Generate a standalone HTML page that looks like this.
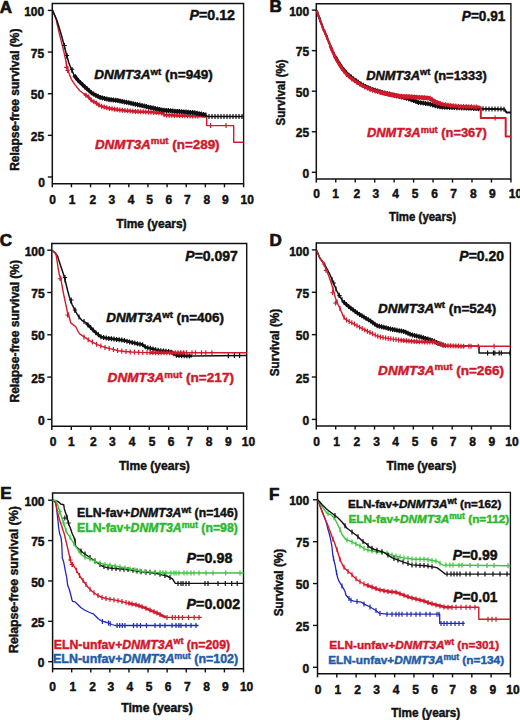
<!DOCTYPE html>
<html><head><meta charset="utf-8"><style>
html,body{margin:0;padding:0;background:#fff;}
svg{display:block;}
text{font-family:"Liberation Sans", sans-serif;font-weight:bold;}
</style></head><body>
<svg width="520" height="720" viewBox="0 0 520 720">
<rect width="520" height="720" fill="#fff"/>
<path d="M52.30,3.50 H243.60 V183.70 H52.30" fill="none" stroke="#111" stroke-width="1.4"/>
<path d="M52.30,2.80 V187.30" fill="none" stroke="#111" stroke-width="1.5"/>
<path d="M47.80,177.00 H52.3" stroke="#111" stroke-width="1.4"/>
<text x="45.00" y="186.60" font-size="12" text-anchor="end" fill="#111" stroke="#111" stroke-width="0.45" >0</text>
<path d="M47.80,135.35 H52.3" stroke="#111" stroke-width="1.4"/>
<text x="44.20" y="140.95" font-size="12" text-anchor="end" fill="#111" stroke="#111" stroke-width="0.45" >25</text>
<path d="M47.80,93.70 H52.3" stroke="#111" stroke-width="1.4"/>
<text x="44.20" y="99.30" font-size="12" text-anchor="end" fill="#111" stroke="#111" stroke-width="0.45" >50</text>
<path d="M47.80,52.05 H52.3" stroke="#111" stroke-width="1.4"/>
<text x="44.20" y="57.65" font-size="12" text-anchor="end" fill="#111" stroke="#111" stroke-width="0.45" >75</text>
<path d="M47.80,10.40 H52.3" stroke="#111" stroke-width="1.4"/>
<text x="44.20" y="16.00" font-size="12" text-anchor="end" fill="#111" stroke="#111" stroke-width="0.45" >100</text>
<text x="52.70" y="203.80" font-size="12" text-anchor="middle" fill="#111" stroke="#111" stroke-width="0.45" >0</text>
<path d="M71.43,183.70 V187.30" stroke="#111" stroke-width="1.4"/>
<text x="72.20" y="203.80" font-size="12" text-anchor="middle" fill="#111" stroke="#111" stroke-width="0.45" >1</text>
<path d="M90.56,183.70 V187.30" stroke="#111" stroke-width="1.4"/>
<text x="92.90" y="203.80" font-size="12" text-anchor="middle" fill="#111" stroke="#111" stroke-width="0.45" >2</text>
<path d="M109.69,183.70 V187.30" stroke="#111" stroke-width="1.4"/>
<text x="111.90" y="203.80" font-size="12" text-anchor="middle" fill="#111" stroke="#111" stroke-width="0.45" >3</text>
<path d="M128.82,183.70 V187.30" stroke="#111" stroke-width="1.4"/>
<text x="131.00" y="203.80" font-size="12" text-anchor="middle" fill="#111" stroke="#111" stroke-width="0.45" >4</text>
<path d="M147.95,183.70 V187.30" stroke="#111" stroke-width="1.4"/>
<text x="149.70" y="203.80" font-size="12" text-anchor="middle" fill="#111" stroke="#111" stroke-width="0.45" >5</text>
<path d="M167.08,183.70 V187.30" stroke="#111" stroke-width="1.4"/>
<text x="168.80" y="203.80" font-size="12" text-anchor="middle" fill="#111" stroke="#111" stroke-width="0.45" >6</text>
<path d="M186.21,183.70 V187.30" stroke="#111" stroke-width="1.4"/>
<text x="187.30" y="203.80" font-size="12" text-anchor="middle" fill="#111" stroke="#111" stroke-width="0.45" >7</text>
<path d="M205.34,183.70 V187.30" stroke="#111" stroke-width="1.4"/>
<text x="206.90" y="203.80" font-size="12" text-anchor="middle" fill="#111" stroke="#111" stroke-width="0.45" >8</text>
<path d="M224.47,183.70 V187.30" stroke="#111" stroke-width="1.4"/>
<text x="225.40" y="203.80" font-size="12" text-anchor="middle" fill="#111" stroke="#111" stroke-width="0.45" >9</text>
<path d="M243.60,183.70 V187.30" stroke="#111" stroke-width="1.4"/>
<text x="247.30" y="203.80" font-size="12" text-anchor="middle" fill="#111" stroke="#111" stroke-width="0.45" >10</text>
<text x="116.30" y="227.50" font-size="12.5" text-anchor="start" fill="#111" stroke="#111" stroke-width="0.45" textLength="70.3" lengthAdjust="spacingAndGlyphs">Time (years)</text>
<text transform="translate(18.70,99.70) rotate(-90)" x="0" y="0" font-size="12.8" text-anchor="middle" textLength="142.2" lengthAdjust="spacingAndGlyphs" fill="#111" stroke="#111" stroke-width="0.45">Relapse-free survival (%)</text>
<text x="-0.20" y="12.80" font-size="17" fill="#111" stroke="#111" stroke-width="0.7">A</text>
<path d="M316.30,3.70 H510.90 V179.00 H316.30" fill="none" stroke="#111" stroke-width="1.4"/>
<path d="M316.30,3.00 V182.60" fill="none" stroke="#111" stroke-width="1.5"/>
<path d="M311.80,172.30 H316.3" stroke="#111" stroke-width="1.4"/>
<text x="309.20" y="177.90" font-size="12" text-anchor="end" fill="#111" stroke="#111" stroke-width="0.45" >0</text>
<path d="M311.80,131.75 H316.3" stroke="#111" stroke-width="1.4"/>
<text x="309.20" y="137.35" font-size="12" text-anchor="end" fill="#111" stroke="#111" stroke-width="0.45" >25</text>
<path d="M311.80,91.20 H316.3" stroke="#111" stroke-width="1.4"/>
<text x="309.20" y="96.80" font-size="12" text-anchor="end" fill="#111" stroke="#111" stroke-width="0.45" >50</text>
<path d="M311.80,50.65 H316.3" stroke="#111" stroke-width="1.4"/>
<text x="309.20" y="56.25" font-size="12" text-anchor="end" fill="#111" stroke="#111" stroke-width="0.45" >75</text>
<path d="M311.80,10.10 H316.3" stroke="#111" stroke-width="1.4"/>
<text x="309.20" y="15.70" font-size="12" text-anchor="end" fill="#111" stroke="#111" stroke-width="0.45" >100</text>
<text x="316.60" y="198.30" font-size="12" text-anchor="middle" fill="#111" stroke="#111" stroke-width="0.45" >0</text>
<path d="M335.76,179.00 V182.60" stroke="#111" stroke-width="1.4"/>
<text x="335.70" y="198.30" font-size="12" text-anchor="middle" fill="#111" stroke="#111" stroke-width="0.45" >1</text>
<path d="M355.22,179.00 V182.60" stroke="#111" stroke-width="1.4"/>
<text x="356.80" y="198.30" font-size="12" text-anchor="middle" fill="#111" stroke="#111" stroke-width="0.45" >2</text>
<path d="M374.68,179.00 V182.60" stroke="#111" stroke-width="1.4"/>
<text x="375.90" y="198.30" font-size="12" text-anchor="middle" fill="#111" stroke="#111" stroke-width="0.45" >3</text>
<path d="M394.14,179.00 V182.60" stroke="#111" stroke-width="1.4"/>
<text x="395.50" y="198.30" font-size="12" text-anchor="middle" fill="#111" stroke="#111" stroke-width="0.45" >4</text>
<path d="M413.60,179.00 V182.60" stroke="#111" stroke-width="1.4"/>
<text x="415.00" y="198.30" font-size="12" text-anchor="middle" fill="#111" stroke="#111" stroke-width="0.45" >5</text>
<path d="M433.06,179.00 V182.60" stroke="#111" stroke-width="1.4"/>
<text x="434.60" y="198.30" font-size="12" text-anchor="middle" fill="#111" stroke="#111" stroke-width="0.45" >6</text>
<path d="M452.52,179.00 V182.60" stroke="#111" stroke-width="1.4"/>
<text x="453.50" y="198.30" font-size="12" text-anchor="middle" fill="#111" stroke="#111" stroke-width="0.45" >7</text>
<path d="M471.98,179.00 V182.60" stroke="#111" stroke-width="1.4"/>
<text x="473.40" y="198.30" font-size="12" text-anchor="middle" fill="#111" stroke="#111" stroke-width="0.45" >8</text>
<path d="M491.44,179.00 V182.60" stroke="#111" stroke-width="1.4"/>
<text x="492.30" y="198.30" font-size="12" text-anchor="middle" fill="#111" stroke="#111" stroke-width="0.45" >9</text>
<path d="M510.90,179.00 V182.60" stroke="#111" stroke-width="1.4"/>
<text x="515.50" y="198.30" font-size="12" text-anchor="middle" fill="#111" stroke="#111" stroke-width="0.45" >10</text>
<text x="388.90" y="221.20" font-size="12.5" text-anchor="start" fill="#111" stroke="#111" stroke-width="0.45" textLength="67.2" lengthAdjust="spacingAndGlyphs">Time (years)</text>
<text transform="translate(285.30,92.40) rotate(-90)" x="0" y="0" font-size="12.8" text-anchor="middle" textLength="66.0" lengthAdjust="spacingAndGlyphs" fill="#111" stroke="#111" stroke-width="0.45">Survival (%)</text>
<text x="269.40" y="12.10" font-size="17" fill="#111" stroke="#111" stroke-width="0.7">B</text>
<path d="M51.80,243.50 H246.70 V426.30 H51.80" fill="none" stroke="#111" stroke-width="1.4"/>
<path d="M51.80,242.80 V429.90" fill="none" stroke="#111" stroke-width="1.5"/>
<path d="M47.30,419.40 H51.8" stroke="#111" stroke-width="1.4"/>
<text x="44.70" y="425.00" font-size="12" text-anchor="end" fill="#111" stroke="#111" stroke-width="0.45" >0</text>
<path d="M47.30,377.10 H51.8" stroke="#111" stroke-width="1.4"/>
<text x="44.70" y="382.70" font-size="12" text-anchor="end" fill="#111" stroke="#111" stroke-width="0.45" >25</text>
<path d="M47.30,334.80 H51.8" stroke="#111" stroke-width="1.4"/>
<text x="44.70" y="340.40" font-size="12" text-anchor="end" fill="#111" stroke="#111" stroke-width="0.45" >50</text>
<path d="M47.30,292.50 H51.8" stroke="#111" stroke-width="1.4"/>
<text x="44.70" y="298.10" font-size="12" text-anchor="end" fill="#111" stroke="#111" stroke-width="0.45" >75</text>
<path d="M47.30,250.20 H51.8" stroke="#111" stroke-width="1.4"/>
<text x="44.70" y="255.80" font-size="12" text-anchor="end" fill="#111" stroke="#111" stroke-width="0.45" >100</text>
<text x="53.10" y="446.10" font-size="12" text-anchor="middle" fill="#111" stroke="#111" stroke-width="0.45" >0</text>
<path d="M71.29,426.30 V429.90" stroke="#111" stroke-width="1.4"/>
<text x="71.30" y="446.10" font-size="12" text-anchor="middle" fill="#111" stroke="#111" stroke-width="0.45" >1</text>
<path d="M90.78,426.30 V429.90" stroke="#111" stroke-width="1.4"/>
<text x="93.30" y="446.10" font-size="12" text-anchor="middle" fill="#111" stroke="#111" stroke-width="0.45" >2</text>
<path d="M110.27,426.30 V429.90" stroke="#111" stroke-width="1.4"/>
<text x="112.30" y="446.10" font-size="12" text-anchor="middle" fill="#111" stroke="#111" stroke-width="0.45" >3</text>
<path d="M129.76,426.30 V429.90" stroke="#111" stroke-width="1.4"/>
<text x="132.00" y="446.10" font-size="12" text-anchor="middle" fill="#111" stroke="#111" stroke-width="0.45" >4</text>
<path d="M149.25,426.30 V429.90" stroke="#111" stroke-width="1.4"/>
<text x="152.00" y="446.10" font-size="12" text-anchor="middle" fill="#111" stroke="#111" stroke-width="0.45" >5</text>
<path d="M168.74,426.30 V429.90" stroke="#111" stroke-width="1.4"/>
<text x="171.20" y="446.10" font-size="12" text-anchor="middle" fill="#111" stroke="#111" stroke-width="0.45" >6</text>
<path d="M188.23,426.30 V429.90" stroke="#111" stroke-width="1.4"/>
<text x="189.60" y="446.10" font-size="12" text-anchor="middle" fill="#111" stroke="#111" stroke-width="0.45" >7</text>
<path d="M207.72,426.30 V429.90" stroke="#111" stroke-width="1.4"/>
<text x="209.20" y="446.10" font-size="12" text-anchor="middle" fill="#111" stroke="#111" stroke-width="0.45" >8</text>
<path d="M227.21,426.30 V429.90" stroke="#111" stroke-width="1.4"/>
<text x="228.40" y="446.10" font-size="12" text-anchor="middle" fill="#111" stroke="#111" stroke-width="0.45" >9</text>
<path d="M246.70,426.30 V429.90" stroke="#111" stroke-width="1.4"/>
<text x="248.50" y="446.10" font-size="12" text-anchor="middle" fill="#111" stroke="#111" stroke-width="0.45" >10</text>
<text x="118.90" y="469.60" font-size="12.5" text-anchor="start" fill="#111" stroke="#111" stroke-width="0.45" textLength="71.0" lengthAdjust="spacingAndGlyphs">Time (years)</text>
<text transform="translate(18.80,331.25) rotate(-90)" x="0" y="0" font-size="12.8" text-anchor="middle" textLength="142.5" lengthAdjust="spacingAndGlyphs" fill="#111" stroke="#111" stroke-width="0.45">Relapse-free survival (%)</text>
<text x="-0.30" y="246.10" font-size="17" fill="#111" stroke="#111" stroke-width="0.7">C</text>
<path d="M316.30,243.00 H510.40 V426.00 H316.30" fill="none" stroke="#111" stroke-width="1.4"/>
<path d="M316.30,242.30 V429.60" fill="none" stroke="#111" stroke-width="1.5"/>
<path d="M311.80,419.40 H316.3" stroke="#111" stroke-width="1.4"/>
<text x="309.20" y="425.00" font-size="12" text-anchor="end" fill="#111" stroke="#111" stroke-width="0.45" >0</text>
<path d="M311.80,377.02 H316.3" stroke="#111" stroke-width="1.4"/>
<text x="309.20" y="382.62" font-size="12" text-anchor="end" fill="#111" stroke="#111" stroke-width="0.45" >25</text>
<path d="M311.80,334.65 H316.3" stroke="#111" stroke-width="1.4"/>
<text x="309.20" y="340.25" font-size="12" text-anchor="end" fill="#111" stroke="#111" stroke-width="0.45" >50</text>
<path d="M311.80,292.27 H316.3" stroke="#111" stroke-width="1.4"/>
<text x="309.20" y="297.88" font-size="12" text-anchor="end" fill="#111" stroke="#111" stroke-width="0.45" >75</text>
<path d="M311.80,249.90 H316.3" stroke="#111" stroke-width="1.4"/>
<text x="309.20" y="255.50" font-size="12" text-anchor="end" fill="#111" stroke="#111" stroke-width="0.45" >100</text>
<text x="316.60" y="446.00" font-size="12" text-anchor="middle" fill="#111" stroke="#111" stroke-width="0.45" >0</text>
<path d="M335.71,426.00 V429.60" stroke="#111" stroke-width="1.4"/>
<text x="336.70" y="446.00" font-size="12" text-anchor="middle" fill="#111" stroke="#111" stroke-width="0.45" >1</text>
<path d="M355.12,426.00 V429.60" stroke="#111" stroke-width="1.4"/>
<text x="356.80" y="446.00" font-size="12" text-anchor="middle" fill="#111" stroke="#111" stroke-width="0.45" >2</text>
<path d="M374.53,426.00 V429.60" stroke="#111" stroke-width="1.4"/>
<text x="376.50" y="446.00" font-size="12" text-anchor="middle" fill="#111" stroke="#111" stroke-width="0.45" >3</text>
<path d="M393.94,426.00 V429.60" stroke="#111" stroke-width="1.4"/>
<text x="395.50" y="446.00" font-size="12" text-anchor="middle" fill="#111" stroke="#111" stroke-width="0.45" >4</text>
<path d="M413.35,426.00 V429.60" stroke="#111" stroke-width="1.4"/>
<text x="415.00" y="446.00" font-size="12" text-anchor="middle" fill="#111" stroke="#111" stroke-width="0.45" >5</text>
<path d="M432.76,426.00 V429.60" stroke="#111" stroke-width="1.4"/>
<text x="434.20" y="446.00" font-size="12" text-anchor="middle" fill="#111" stroke="#111" stroke-width="0.45" >6</text>
<path d="M452.17,426.00 V429.60" stroke="#111" stroke-width="1.4"/>
<text x="453.10" y="446.00" font-size="12" text-anchor="middle" fill="#111" stroke="#111" stroke-width="0.45" >7</text>
<path d="M471.58,426.00 V429.60" stroke="#111" stroke-width="1.4"/>
<text x="472.70" y="446.00" font-size="12" text-anchor="middle" fill="#111" stroke="#111" stroke-width="0.45" >8</text>
<path d="M490.99,426.00 V429.60" stroke="#111" stroke-width="1.4"/>
<text x="491.90" y="446.00" font-size="12" text-anchor="middle" fill="#111" stroke="#111" stroke-width="0.45" >9</text>
<path d="M510.40,426.00 V429.60" stroke="#111" stroke-width="1.4"/>
<text x="511.90" y="446.00" font-size="12" text-anchor="middle" fill="#111" stroke="#111" stroke-width="0.45" >10</text>
<text x="386.60" y="469.60" font-size="12.5" text-anchor="start" fill="#111" stroke="#111" stroke-width="0.45" textLength="69.6" lengthAdjust="spacingAndGlyphs">Time (years)</text>
<text transform="translate(279.40,342.50) rotate(-90)" x="0" y="0" font-size="12.8" text-anchor="middle" textLength="67.5" lengthAdjust="spacingAndGlyphs" fill="#111" stroke="#111" stroke-width="0.45">Survival (%)</text>
<text x="269.40" y="246.20" font-size="17" fill="#111" stroke="#111" stroke-width="0.7">D</text>
<path d="M52.60,493.00 H243.50 V668.80 H52.60" fill="none" stroke="#111" stroke-width="1.4"/>
<path d="M52.60,492.30 V672.40" fill="none" stroke="#111" stroke-width="1.5"/>
<path d="M48.10,661.70 H52.6" stroke="#111" stroke-width="1.4"/>
<text x="44.50" y="667.30" font-size="12" text-anchor="end" fill="#111" stroke="#111" stroke-width="0.45" >0</text>
<path d="M48.10,621.33 H52.6" stroke="#111" stroke-width="1.4"/>
<text x="44.50" y="626.93" font-size="12" text-anchor="end" fill="#111" stroke="#111" stroke-width="0.45" >25</text>
<path d="M48.10,580.95 H52.6" stroke="#111" stroke-width="1.4"/>
<text x="44.50" y="586.55" font-size="12" text-anchor="end" fill="#111" stroke="#111" stroke-width="0.45" >50</text>
<path d="M48.10,540.58 H52.6" stroke="#111" stroke-width="1.4"/>
<text x="44.50" y="546.18" font-size="12" text-anchor="end" fill="#111" stroke="#111" stroke-width="0.45" >75</text>
<path d="M48.10,500.20 H52.6" stroke="#111" stroke-width="1.4"/>
<text x="44.50" y="505.80" font-size="12" text-anchor="end" fill="#111" stroke="#111" stroke-width="0.45" >100</text>
<text x="52.70" y="690.50" font-size="12" text-anchor="middle" fill="#111" stroke="#111" stroke-width="0.45" >0</text>
<path d="M71.69,668.80 V672.40" stroke="#111" stroke-width="1.4"/>
<text x="72.80" y="690.50" font-size="12" text-anchor="middle" fill="#111" stroke="#111" stroke-width="0.45" >1</text>
<path d="M90.78,668.80 V672.40" stroke="#111" stroke-width="1.4"/>
<text x="92.50" y="690.50" font-size="12" text-anchor="middle" fill="#111" stroke="#111" stroke-width="0.45" >2</text>
<path d="M109.87,668.80 V672.40" stroke="#111" stroke-width="1.4"/>
<text x="110.90" y="690.50" font-size="12" text-anchor="middle" fill="#111" stroke="#111" stroke-width="0.45" >3</text>
<path d="M128.96,668.80 V672.40" stroke="#111" stroke-width="1.4"/>
<text x="129.90" y="690.50" font-size="12" text-anchor="middle" fill="#111" stroke="#111" stroke-width="0.45" >4</text>
<path d="M148.05,668.80 V672.40" stroke="#111" stroke-width="1.4"/>
<text x="149.20" y="690.50" font-size="12" text-anchor="middle" fill="#111" stroke="#111" stroke-width="0.45" >5</text>
<path d="M167.14,668.80 V672.40" stroke="#111" stroke-width="1.4"/>
<text x="168.20" y="690.50" font-size="12" text-anchor="middle" fill="#111" stroke="#111" stroke-width="0.45" >6</text>
<path d="M186.23,668.80 V672.40" stroke="#111" stroke-width="1.4"/>
<text x="187.30" y="690.50" font-size="12" text-anchor="middle" fill="#111" stroke="#111" stroke-width="0.45" >7</text>
<path d="M205.32,668.80 V672.40" stroke="#111" stroke-width="1.4"/>
<text x="206.50" y="690.50" font-size="12" text-anchor="middle" fill="#111" stroke="#111" stroke-width="0.45" >8</text>
<path d="M224.41,668.80 V672.40" stroke="#111" stroke-width="1.4"/>
<text x="225.40" y="690.50" font-size="12" text-anchor="middle" fill="#111" stroke="#111" stroke-width="0.45" >9</text>
<path d="M243.50,668.80 V672.40" stroke="#111" stroke-width="1.4"/>
<text x="246.60" y="690.50" font-size="12" text-anchor="middle" fill="#111" stroke="#111" stroke-width="0.45" >10</text>
<text x="121.20" y="711.90" font-size="12.5" text-anchor="start" fill="#111" stroke="#111" stroke-width="0.45" textLength="71.7" lengthAdjust="spacingAndGlyphs">Time (years)</text>
<text transform="translate(17.50,579.62) rotate(-90)" x="0" y="0" font-size="12.8" text-anchor="middle" textLength="146.8" lengthAdjust="spacingAndGlyphs" fill="#111" stroke="#111" stroke-width="0.45">Relapse-free survival (%)</text>
<text x="0.20" y="499.00" font-size="17" fill="#111" stroke="#111" stroke-width="0.7">E</text>
<path d="M317.50,492.40 H510.40 V673.80 H317.50" fill="none" stroke="#111" stroke-width="1.4"/>
<path d="M317.50,491.70 V677.40" fill="none" stroke="#111" stroke-width="1.5"/>
<path d="M313.00,667.30 H317.5" stroke="#111" stroke-width="1.4"/>
<text x="309.20" y="672.90" font-size="12" text-anchor="end" fill="#111" stroke="#111" stroke-width="0.45" >0</text>
<path d="M313.00,625.42 H317.5" stroke="#111" stroke-width="1.4"/>
<text x="309.20" y="631.02" font-size="12" text-anchor="end" fill="#111" stroke="#111" stroke-width="0.45" >25</text>
<path d="M313.00,583.55 H317.5" stroke="#111" stroke-width="1.4"/>
<text x="309.20" y="589.15" font-size="12" text-anchor="end" fill="#111" stroke="#111" stroke-width="0.45" >50</text>
<path d="M313.00,541.67 H317.5" stroke="#111" stroke-width="1.4"/>
<text x="309.20" y="547.27" font-size="12" text-anchor="end" fill="#111" stroke="#111" stroke-width="0.45" >75</text>
<path d="M313.00,499.80 H317.5" stroke="#111" stroke-width="1.4"/>
<text x="309.20" y="505.40" font-size="12" text-anchor="end" fill="#111" stroke="#111" stroke-width="0.45" >100</text>
<text x="318.10" y="693.60" font-size="12" text-anchor="middle" fill="#111" stroke="#111" stroke-width="0.45" >0</text>
<path d="M336.79,673.80 V677.40" stroke="#111" stroke-width="1.4"/>
<text x="337.80" y="693.60" font-size="12" text-anchor="middle" fill="#111" stroke="#111" stroke-width="0.45" >1</text>
<path d="M356.08,673.80 V677.40" stroke="#111" stroke-width="1.4"/>
<text x="357.50" y="693.60" font-size="12" text-anchor="middle" fill="#111" stroke="#111" stroke-width="0.45" >2</text>
<path d="M375.37,673.80 V677.40" stroke="#111" stroke-width="1.4"/>
<text x="376.50" y="693.60" font-size="12" text-anchor="middle" fill="#111" stroke="#111" stroke-width="0.45" >3</text>
<path d="M394.66,673.80 V677.40" stroke="#111" stroke-width="1.4"/>
<text x="396.00" y="693.60" font-size="12" text-anchor="middle" fill="#111" stroke="#111" stroke-width="0.45" >4</text>
<path d="M413.95,673.80 V677.40" stroke="#111" stroke-width="1.4"/>
<text x="415.70" y="693.60" font-size="12" text-anchor="middle" fill="#111" stroke="#111" stroke-width="0.45" >5</text>
<path d="M433.24,673.80 V677.40" stroke="#111" stroke-width="1.4"/>
<text x="434.60" y="693.60" font-size="12" text-anchor="middle" fill="#111" stroke="#111" stroke-width="0.45" >6</text>
<path d="M452.53,673.80 V677.40" stroke="#111" stroke-width="1.4"/>
<text x="452.60" y="693.60" font-size="12" text-anchor="middle" fill="#111" stroke="#111" stroke-width="0.45" >7</text>
<path d="M471.82,673.80 V677.40" stroke="#111" stroke-width="1.4"/>
<text x="473.40" y="693.60" font-size="12" text-anchor="middle" fill="#111" stroke="#111" stroke-width="0.45" >8</text>
<path d="M491.11,673.80 V677.40" stroke="#111" stroke-width="1.4"/>
<text x="492.80" y="693.60" font-size="12" text-anchor="middle" fill="#111" stroke="#111" stroke-width="0.45" >9</text>
<path d="M510.40,673.80 V677.40" stroke="#111" stroke-width="1.4"/>
<text x="513.00" y="693.60" font-size="12" text-anchor="middle" fill="#111" stroke="#111" stroke-width="0.45" >10</text>
<text x="391.20" y="717.30" font-size="12.5" text-anchor="start" fill="#111" stroke="#111" stroke-width="0.45" textLength="69.1" lengthAdjust="spacingAndGlyphs">Time (years)</text>
<text transform="translate(283.30,582.50) rotate(-90)" x="0" y="0" font-size="12.8" text-anchor="middle" textLength="67.5" lengthAdjust="spacingAndGlyphs" fill="#111" stroke="#111" stroke-width="0.45">Survival (%)</text>
<text x="269.10" y="500.00" font-size="17" fill="#111" stroke="#111" stroke-width="0.7">F</text>
<path d="M52.5,10.4 L55.8,18.0 L58.9,31.8 L61.4,41.8 L63.9,51.8 L65.8,60.5 L67.0,66.8 L68.9,73.0 L71.4,79.3 L75.1,84.9 L79.5,90.5 L84.5,94.3 L88.3,96.8 L92.3,101.2 L94.6,101.9 L100.0,105.8 L107.7,108.1 L116.9,109.6 L126.2,110.7 L135.4,111.5 L144.6,111.9 L150.0,112.1 L162.5,113.1 L164.4,115.0 L178.8,115.6 L194.2,116.0 L206.7,116.5 L206.7,125.6 L233.7,125.6 L233.7,142.3 L243.5,142.3" fill="none" stroke="#d21a2c" stroke-width="1.4" stroke-linejoin="round"/>
<path d="M84.0,93.9 L85.0,94.6 L86.0,95.3 L87.0,95.9 L88.0,96.6 L89.0,97.6 L90.0,98.7 L91.0,99.8 L92.0,100.9 L93.0,101.4 L94.0,101.7 L95.0,102.2 L96.0,102.9 L97.0,103.6 L98.0,104.4 L99.0,105.1 L100.0,105.8 L101.0,106.1 L102.0,106.4 L103.0,106.7 L104.0,107.0 L105.0,107.3 L106.0,107.6 L107.0,107.9 L108.0,108.1 L109.0,108.3 L110.0,108.5 L111.0,108.6 L112.0,108.8 L113.0,109.0 L114.0,109.1 L115.0,109.3 L116.0,109.5 L117.0,109.6 L118.0,109.7 L119.0,109.8 L120.0,110.0 L121.0,110.1 L122.0,110.2 L123.0,110.3 L124.0,110.4 L125.0,110.6 L126.0,110.7 L127.0,110.8 L128.0,110.9 L129.0,110.9 L130.0,111.0 L131.0,111.1 L132.0,111.2 L133.0,111.3 L134.0,111.4 L135.0,111.5 L136.0,111.5 L137.0,111.6 L138.0,111.6 L139.0,111.7 L140.0,111.7 L141.0,111.7 L142.0,111.8 L143.0,111.8 L144.0,111.9 L145.0,111.9 L146.0,112.0 L147.0,112.0 L148.0,112.0 L149.0,112.1 L150.0,112.1 L151.0,112.2 L152.0,112.3 L153.0,112.3 L154.0,112.4 L155.0,112.5 L156.0,112.6 L157.0,112.7 L158.0,112.7 L159.0,112.8 L160.0,112.9 L161.0,113.0 L162.0,113.1 L163.0,113.6 L164.0,114.6 L165.0,115.0 L166.0,115.1 L167.0,115.1 L168.0,115.1 L169.0,115.2 L170.0,115.2 L171.0,115.3 L172.0,115.3 L173.0,115.4 L174.0,115.4 L175.0,115.4 L176.0,115.5 L177.0,115.5 L178.0,115.6 L179.0,115.6 L180.0,115.6 L181.0,115.7 L182.0,115.7 L183.0,115.7 L184.0,115.7 L185.0,115.8 L186.0,115.8 L187.0,115.8 L188.0,115.8 L189.0,115.9 L190.0,115.9 L191.0,115.9 L192.0,115.9 L193.0,116.0 L194.0,116.0 L195.0,116.0 L196.0,116.1 L197.0,116.1 L198.0,116.2 L199.0,116.2 L200.0,116.2 L201.0,116.3 L202.0,116.3 L203.0,116.4 L204.0,116.4 L205.0,116.4" fill="none" stroke="#d21a2c" stroke-width="2.6" stroke-linejoin="round"/>
<path d="M66.4,61.2V66.2M67.6,66.3V71.3M86.0,92.8V97.8M88.6,94.6V99.6M91.2,97.5V102.5M93.8,99.2V104.2M96.4,100.7V105.7M99.0,102.6V107.6M101.6,103.8V108.8M104.2,104.6V109.6M106.8,105.3V110.3M109.4,105.9V110.9M112.0,106.3V111.3M114.6,106.7V111.7M117.2,107.1V112.1M119.8,107.4V112.4M122.4,107.8V112.8M125.0,108.1V113.1M127.6,108.3V113.3M130.2,108.5V113.5M132.8,108.8V113.8M135.4,109.0V114.0M138.0,109.1V114.1M140.6,109.2V114.2M143.2,109.3V114.3M145.8,109.4V114.4M148.4,109.5V114.5M151.0,109.7V114.7M153.6,109.9V114.9M156.2,110.1V115.1M158.8,110.3V115.3M161.4,110.5V115.5M164.0,112.1V117.1M166.6,112.6V117.6M169.2,112.7V117.7M171.8,112.8V117.8M174.4,112.9V117.9M177.0,113.0V118.0M179.6,113.1V118.1M182.2,113.2V118.2M184.8,113.3V118.3M187.4,113.3V118.3M190.0,113.4V118.4M192.6,113.5V118.5M195.2,113.5V118.5M197.8,113.6V118.6M210.6,123.1V128.1M226.0,123.1V128.1" fill="none" stroke="#d21a2c" stroke-width="1.2"/>
<path d="M52.5,10.4 L57.0,20.5 L60.8,33.0 L63.9,44.3 L66.4,54.3 L68.9,63.0 L71.4,69.3 L74.5,76.1 L78.3,80.5 L83.3,85.5 L89.5,91.1 L92.3,93.5 L100.0,97.3 L107.7,99.3 L116.9,100.4 L124.6,101.9 L132.3,103.5 L141.5,105.5 L149.2,107.3 L163.5,110.2 L178.8,111.5 L194.2,112.7 L205.8,115.0 L207.7,116.5 L243.5,116.5" fill="none" stroke="#111" stroke-width="1.5" stroke-linejoin="round"/>
<path d="M74.0,75.0 L75.0,76.7 L76.0,77.8 L77.0,79.0 L78.0,80.2 L79.0,81.2 L80.0,82.2 L81.0,83.2 L82.0,84.2 L83.0,85.2 L84.0,86.1 L85.0,87.0 L86.0,87.9 L87.0,88.8 L88.0,89.7 L89.0,90.6 L90.0,91.5 L91.0,92.4 L92.0,93.2 L93.0,93.8 L94.0,94.3 L95.0,94.8 L96.0,95.3 L97.0,95.8 L98.0,96.3 L99.0,96.8 L100.0,97.3 L101.0,97.6 L102.0,97.8 L103.0,98.1 L104.0,98.3 L105.0,98.6 L106.0,98.9 L107.0,99.1 L108.0,99.3 L109.0,99.5 L110.0,99.6 L111.0,99.7 L112.0,99.8 L113.0,99.9 L114.0,100.1 L115.0,100.2 L116.0,100.3 L117.0,100.4 L118.0,100.6 L119.0,100.8 L120.0,101.0 L121.0,101.2 L122.0,101.4 L123.0,101.6 L124.0,101.8 L125.0,102.0 L126.0,102.2 L127.0,102.4 L128.0,102.6 L129.0,102.8 L130.0,103.0 L131.0,103.2 L132.0,103.4 L133.0,103.7 L134.0,103.9 L135.0,104.1 L136.0,104.3 L137.0,104.5 L138.0,104.7 L139.0,105.0 L140.0,105.2 L141.0,105.4 L142.0,105.6 L143.0,105.9 L144.0,106.1 L145.0,106.3 L146.0,106.6 L147.0,106.8 L148.0,107.0 L149.0,107.3 L150.0,107.5 L151.0,107.7 L152.0,107.9 L153.0,108.1 L154.0,108.3 L155.0,108.5 L156.0,108.7 L157.0,108.9 L158.0,109.1 L159.0,109.3 L160.0,109.5 L161.0,109.7 L162.0,109.9 L163.0,110.1 L164.0,110.2 L165.0,110.3 L166.0,110.4 L167.0,110.5 L168.0,110.6 L169.0,110.7 L170.0,110.8 L171.0,110.8 L172.0,110.9 L173.0,111.0 L174.0,111.1 L175.0,111.2 L176.0,111.3 L177.0,111.3 L178.0,111.4 L179.0,111.5 L180.0,111.6 L181.0,111.7 L182.0,111.7 L183.0,111.8 L184.0,111.9 L185.0,112.0 L186.0,112.1 L187.0,112.1 L188.0,112.2 L189.0,112.3 L190.0,112.4 L191.0,112.5 L192.0,112.5 L193.0,112.6 L194.0,112.7 L195.0,112.9 L196.0,113.1 L197.0,113.3 L198.0,113.5 L199.0,113.7 L200.0,113.8 L201.0,114.0 L202.0,114.2 L203.0,114.4 L204.0,114.6 L205.0,114.8 L206.0,115.2" fill="none" stroke="#111" stroke-width="3.6" stroke-linejoin="round"/>
<path d="M64.5,44.2V49.2M67.0,53.9V58.9M72.0,68.1V73.1M76.0,75.3V80.3M78.2,77.9V82.9M80.4,80.1V85.1M82.6,82.3V87.3M84.8,84.4V89.4M87.0,86.3V91.3M89.2,88.3V93.3M91.4,90.2V95.2M93.6,91.6V96.6M95.8,92.7V97.7M98.0,93.8V98.8M100.2,94.9V99.9M102.4,95.4V100.4M104.6,96.0V101.0M106.8,96.6V101.6M109.0,97.0V102.0M111.2,97.2V102.2M113.4,97.5V102.5M115.6,97.7V102.7M117.8,98.1V103.1M120.0,98.5V103.5M122.2,98.9V103.9M124.4,99.4V104.4M126.6,99.8V104.8M128.8,100.3V105.3M131.0,100.7V105.7M133.2,101.2V106.2M135.4,101.7V106.7M137.6,102.2V107.2M139.8,102.6V107.6M142.0,103.1V108.1M144.2,103.6V108.6M146.4,104.1V109.1M148.6,104.7V109.7M150.8,105.1V110.1M153.0,105.6V110.6M155.2,106.0V111.0M157.4,106.5V111.5M159.6,106.9V111.9M161.8,107.4V112.4M164.0,107.7V112.7M166.2,107.9V112.9M168.4,108.1V113.1M170.6,108.3V113.3M172.8,108.5V113.5M175.0,108.7V113.7M177.2,108.9V113.9M179.4,109.0V114.0M181.6,109.2V114.2M183.8,109.4V114.4M186.0,109.6V114.6M188.2,109.7V114.7M190.4,109.9V114.9M192.6,110.1V115.1M194.8,110.3V115.3M197.0,110.8V115.8M199.2,111.2V116.2M201.4,111.6V116.6M203.6,112.1V117.1M205.8,112.5V117.5M209.0,114.0V119.0M212.0,114.0V119.0M215.0,114.0V119.0M218.0,114.0V119.0M221.0,114.0V119.0M224.0,114.0V119.0M227.0,114.0V119.0M230.0,114.0V119.0M233.0,114.0V119.0M236.0,114.0V119.0M239.0,114.0V119.0M242.0,114.0V119.0" fill="none" stroke="#111" stroke-width="1.2"/>
<path d="M316.6,10.3 L319.8,19.3 L323.5,29.3 L327.3,38.0 L331.0,47.5 L334.8,56.0 L338.5,62.5 L342.3,68.3 L347.3,74.0 L353.5,79.0 L359.8,83.3 L366.0,86.8 L371.0,89.0 L381.5,92.2 L392.3,94.8 L400.8,96.8 L410.0,99.2 L418.0,102.3 L429.6,104.0 L435.4,105.8 L441.1,107.0 L457.5,107.7 L470.8,108.3 L480.8,108.8 L504.5,109.2 L506.5,112.5 L510.9,112.5" fill="none" stroke="#111" stroke-width="2.0" stroke-linejoin="round"/>
<path d="M335.0,56.4 L336.0,58.1 L337.0,59.9 L338.0,61.6 L339.0,63.3 L340.0,64.8 L341.0,66.3 L342.0,67.8 L343.0,69.1 L344.0,70.2 L345.0,71.4 L346.0,72.5 L347.0,73.7 L348.0,74.6 L349.0,75.4 L350.0,76.2 L351.0,77.0 L352.0,77.8 L353.0,78.6 L354.0,79.3 L355.0,80.0 L356.0,80.7 L357.0,81.4 L358.0,82.1 L359.0,82.8 L360.0,83.4 L361.0,84.0 L362.0,84.5 L363.0,85.1 L364.0,85.7 L365.0,86.2 L366.0,86.8 L367.0,87.2 L368.0,87.7 L369.0,88.1 L370.0,88.6 L371.0,89.0 L372.0,89.3 L373.0,89.6 L374.0,89.9 L375.0,90.2 L376.0,90.5 L377.0,90.8 L378.0,91.1 L379.0,91.4 L380.0,91.7 L381.0,92.0 L382.0,92.3 L383.0,92.6 L384.0,92.8 L385.0,93.0 L386.0,93.3 L387.0,93.5 L388.0,93.8 L389.0,94.0 L390.0,94.2 L391.0,94.5 L392.0,94.7 L393.0,95.0 L394.0,95.2 L395.0,95.4 L396.0,95.7 L397.0,95.9 L398.0,96.1 L399.0,96.4 L400.0,96.6 L401.0,96.9 L402.0,97.1 L403.0,97.4 L404.0,97.6 L405.0,97.9 L406.0,98.2 L407.0,98.4 L408.0,98.7 L409.0,98.9 L410.0,99.2 L411.0,99.6 L412.0,100.0 L413.0,100.4 L414.0,100.8 L415.0,101.1 L416.0,101.5 L417.0,101.9 L418.0,102.3 L419.0,102.4 L420.0,102.6 L421.0,102.7 L422.0,102.9 L423.0,103.0 L424.0,103.2 L425.0,103.3 L426.0,103.5 L427.0,103.6 L428.0,103.8 L429.0,103.9 L430.0,104.1 L431.0,104.4 L432.0,104.7 L433.0,105.1 L434.0,105.4 L435.0,105.7 L436.0,105.9 L437.0,106.1 L438.0,106.3 L439.0,106.6 L440.0,106.8 L441.0,107.0 L442.0,107.0 L443.0,107.1 L444.0,107.1 L445.0,107.2 L446.0,107.2 L447.0,107.3 L448.0,107.3 L449.0,107.3 L450.0,107.4 L451.0,107.4 L452.0,107.5 L453.0,107.5 L454.0,107.6 L455.0,107.6 L456.0,107.6 L457.0,107.7 L458.0,107.7 L459.0,107.8 L460.0,107.8 L461.0,107.9 L462.0,107.9 L463.0,107.9 L464.0,108.0 L465.0,108.0 L466.0,108.1 L467.0,108.1 L468.0,108.2 L469.0,108.2 L470.0,108.3 L471.0,108.3 L472.0,108.4 L473.0,108.4 L474.0,108.5 L475.0,108.5 L476.0,108.6 L477.0,108.6 L478.0,108.7 L479.0,108.7 L480.0,108.8" fill="none" stroke="#111" stroke-width="3.4" stroke-linejoin="round"/>
<path d="M320.0,17.3V22.3M322.4,23.8V28.8M324.8,29.8V34.8M327.2,35.3V40.3M329.6,41.4V46.4M332.0,47.2V52.2M334.4,52.6V57.6M336.8,57.0V62.0M339.2,61.1V66.1M341.6,64.7V69.7M344.0,67.7V72.7M346.4,70.5V75.5M348.8,72.7V77.7M351.2,74.6V79.6M353.6,76.6V81.6M356.0,78.2V83.2M358.4,79.8V84.8M360.8,81.4V86.4M363.2,82.7V87.7M365.6,84.1V89.1M368.0,85.2V90.2M370.4,86.2V91.2M372.8,87.0V92.0M375.2,87.8V92.8M377.6,88.5V93.5M380.0,89.2V94.2M382.4,89.9V94.9M384.8,90.5V95.5M387.2,91.1V96.1M389.6,91.6V96.6M392.0,92.2V97.2M394.4,92.8V97.8M396.8,93.4V98.4M399.2,93.9V98.9M401.6,94.5V99.5M404.0,95.1V100.1M406.4,95.8V100.8M408.8,96.4V101.4M411.2,97.2V102.2M413.6,98.1V103.1M416.0,99.0V104.0M418.4,99.9V104.9M420.8,100.2V105.2M423.2,100.6V105.6M425.6,100.9V105.9M428.0,101.3V106.3M430.4,101.7V106.7M432.8,102.5V107.5M435.2,103.2V108.2M437.6,103.8V108.8M440.0,104.3V109.3M442.4,104.6V109.6M444.8,104.7V109.7M447.2,104.8V109.8M449.6,104.9V109.9M452.0,105.0V110.0M454.4,105.1V110.1M456.8,105.2V110.2M459.2,105.3V110.3M461.6,105.4V110.4M464.0,105.5V110.5M466.4,105.6V110.6M468.8,105.7V110.7M471.2,105.8V110.8M473.6,105.9V110.9M476.0,106.1V111.1M478.4,106.2V111.2M483.0,106.3V111.3M486.0,106.4V111.4M489.0,106.4V111.4M492.0,106.5V111.5M495.0,106.5V111.5M498.0,106.6V111.6M501.0,106.6V111.6M504.0,106.7V111.7" fill="none" stroke="#111" stroke-width="1.2"/>
<path d="M316.6,10.3 L319.8,19.5 L323.5,29.5 L327.3,38.2 L331.0,48.0 L334.8,56.5 L338.5,63.2 L342.3,69.3 L347.3,75.3 L353.5,80.2 L359.8,84.2 L366.0,87.5 L371.0,89.8 L381.5,92.6 L390.0,94.6 L400.0,96.2 L413.3,97.0 L422.1,97.6 L429.6,98.2 L436.0,102.3 L444.0,104.6 L457.5,106.2 L470.8,106.8 L480.8,107.2 L480.8,118.0 L505.7,118.0 L505.7,136.6 L510.9,136.6" fill="none" stroke="#d21a2c" stroke-width="2.0" stroke-linejoin="round"/>
<path d="M330.0,45.4 L331.0,48.0 L332.0,50.2 L333.0,52.5 L334.0,54.7 L335.0,56.9 L336.0,58.7 L337.0,60.5 L338.0,62.3 L339.0,64.0 L340.0,65.6 L341.0,67.2 L342.0,68.8 L343.0,70.1 L344.0,71.3 L345.0,72.5 L346.0,73.7 L347.0,74.9 L348.0,75.9 L349.0,76.6 L350.0,77.4 L351.0,78.2 L352.0,79.0 L353.0,79.8 L354.0,80.5 L355.0,81.2 L356.0,81.8 L357.0,82.4 L358.0,83.1 L359.0,83.7 L360.0,84.3 L361.0,84.8 L362.0,85.4 L363.0,85.9 L364.0,86.4 L365.0,87.0 L366.0,87.5 L367.0,88.0 L368.0,88.4 L369.0,88.9 L370.0,89.3 L371.0,89.8 L372.0,90.1 L373.0,90.3 L374.0,90.6 L375.0,90.9 L376.0,91.1 L377.0,91.4 L378.0,91.7 L379.0,91.9 L380.0,92.2" fill="none" stroke="#d21a2c" stroke-width="3.0" stroke-linejoin="round"/>
<path d="M380.0,92.2 L381.0,92.5 L382.0,92.7 L383.0,93.0 L384.0,93.2 L385.0,93.4 L386.0,93.7 L387.0,93.9 L388.0,94.1 L389.0,94.4 L390.0,94.6 L391.0,94.8 L392.0,94.9 L393.0,95.1 L394.0,95.2 L395.0,95.4 L396.0,95.6 L397.0,95.7 L398.0,95.9 L399.0,96.0 L400.0,96.2 L401.0,96.3 L402.0,96.3 L403.0,96.4 L404.0,96.4 L405.0,96.5 L406.0,96.6 L407.0,96.6 L408.0,96.7 L409.0,96.7 L410.0,96.8 L411.0,96.9 L412.0,96.9 L413.0,97.0 L414.0,97.0 L415.0,97.1 L416.0,97.2 L417.0,97.3 L418.0,97.3 L419.0,97.4 L420.0,97.5 L421.0,97.5 L422.0,97.6 L423.0,97.7 L424.0,97.8 L425.0,97.8 L426.0,97.9 L427.0,98.0 L428.0,98.1 L429.0,98.2 L430.0,98.5 L431.0,99.1 L432.0,99.7 L433.0,100.4 L434.0,101.0 L435.0,101.7 L436.0,102.3 L437.0,102.6 L438.0,102.9 L439.0,103.2 L440.0,103.4" fill="none" stroke="#d21a2c" stroke-width="4.2" stroke-linejoin="round"/>
<path d="M440.0,103.4 L441.0,103.7 L442.0,104.0 L443.0,104.3 L444.0,104.6 L445.0,104.7 L446.0,104.8 L447.0,105.0 L448.0,105.1 L449.0,105.2 L450.0,105.3 L451.0,105.4 L452.0,105.5 L453.0,105.7 L454.0,105.8 L455.0,105.9 L456.0,106.0 L457.0,106.1 L458.0,106.2 L459.0,106.3 L460.0,106.3 L461.0,106.4 L462.0,106.4 L463.0,106.4 L464.0,106.5 L465.0,106.5 L466.0,106.6 L467.0,106.6 L468.0,106.7 L469.0,106.7 L470.0,106.8 L471.0,106.8 L472.0,106.8 L473.0,106.9 L474.0,106.9 L475.0,107.0 L476.0,107.0 L477.0,107.0 L478.0,107.1 L479.0,107.1 L480.0,107.2" fill="none" stroke="#d21a2c" stroke-width="3.0" stroke-linejoin="round"/>
<path d="M318.0,11.8V16.8M320.6,19.2V24.2M323.2,26.2V31.2M325.8,32.3V37.3M328.4,38.6V43.6M331.0,45.5V50.5M333.6,51.3V56.3M336.2,56.5V61.5M338.8,61.2V66.2M341.4,65.4V70.4M344.0,68.8V73.8M346.6,72.0V77.0M349.2,74.3V79.3M351.8,76.4V81.4M354.4,78.3V83.3M357.0,79.9V84.9M359.6,81.6V86.6M362.2,83.0V88.0M364.8,84.4V89.4M367.4,85.6V90.6M370.0,86.8V91.8M372.6,87.7V92.7M375.2,88.4V93.4M377.8,89.1V94.1M380.4,89.8V94.8M383.0,90.5V95.5M385.6,91.1V96.1M388.2,91.7V96.7M390.8,92.2V97.2M393.4,92.6V97.6M396.0,93.1V98.1M398.6,93.5V98.5M401.2,93.8V98.8M403.8,93.9V98.9M406.4,94.1V99.1M409.0,94.2V99.2M411.6,94.4V99.4M414.2,94.6V99.6M416.8,94.7V99.7M419.4,94.9V99.9M422.0,95.1V100.1M424.6,95.3V100.3M427.2,95.5V100.5M429.8,95.8V100.8M432.4,97.5V102.5M435.0,99.2V104.2M437.6,100.3V105.3M440.2,101.0V106.0M442.8,101.8V106.8M445.4,102.3V107.3M448.0,102.6V107.6M450.6,102.9V107.9M453.2,103.2V108.2M455.8,103.5V108.5M458.4,103.7V108.7M461.0,103.9V108.9M463.6,104.0V109.0M466.2,104.1V109.1M468.8,104.2V109.2M471.4,104.3V109.3M474.0,104.4V109.4M476.6,104.5V109.5M495.1,115.5V120.5" fill="none" stroke="#d21a2c" stroke-width="1.2"/>
<path d="M52.0,250.3 L55.1,253.0 L57.6,256.1 L58.9,260.5 L61.4,268.0 L63.9,275.5 L65.8,283.0 L67.6,290.5 L69.5,297.4 L72.0,304.3 L75.1,310.5 L78.3,316.1 L82.0,320.5 L85.2,322.1 L90.4,327.3 L95.6,332.5 L100.8,336.8 L106.0,338.0 L114.6,339.1 L123.3,340.3 L130.2,342.0 L137.1,343.7 L142.3,344.6 L145.7,347.2 L152.7,348.9 L159.6,350.7 L170.0,351.5 L177.0,355.5 L192.0,356.0 L246.7,355.5" fill="none" stroke="#111" stroke-width="1.5" stroke-linejoin="round"/>
<path d="M86.0,322.9 L87.0,323.9 L88.0,324.9 L89.0,325.9 L90.0,326.9 L91.0,327.9 L92.0,328.9 L93.0,329.9 L94.0,330.9 L95.0,331.9 L96.0,332.8 L97.0,333.7 L98.0,334.5 L99.0,335.3 L100.0,336.1 L101.0,336.8 L102.0,337.1 L103.0,337.3 L104.0,337.5 L105.0,337.8 L106.0,338.0 L107.0,338.1 L108.0,338.3 L109.0,338.4 L110.0,338.5 L111.0,338.6 L112.0,338.8 L113.0,338.9 L114.0,339.0 L115.0,339.2 L116.0,339.3 L117.0,339.4 L118.0,339.6 L119.0,339.7 L120.0,339.8 L121.0,340.0 L122.0,340.1 L123.0,340.3 L124.0,340.5 L125.0,340.7 L126.0,341.0 L127.0,341.2 L128.0,341.5 L129.0,341.7 L130.0,342.0 L131.0,342.2 L132.0,342.4 L133.0,342.7 L134.0,342.9 L135.0,343.2 L136.0,343.4 L137.0,343.7 L138.0,343.9 L139.0,344.0 L140.0,344.2 L141.0,344.4 L142.0,344.5 L143.0,345.1 L144.0,345.9 L145.0,346.7 L146.0,347.3 L147.0,347.5 L148.0,347.8 L149.0,348.0 L150.0,348.2 L151.0,348.5 L152.0,348.7 L153.0,349.0 L154.0,349.2 L155.0,349.5 L156.0,349.8 L157.0,350.0 L158.0,350.3 L159.0,350.5 L160.0,350.7 L161.0,350.8 L162.0,350.9 L163.0,351.0 L164.0,351.0 L165.0,351.1 L166.0,351.2 L167.0,351.3 L168.0,351.3 L169.0,351.4 L170.0,351.5 L171.0,352.1 L172.0,352.6 L173.0,353.2 L174.0,353.8 L175.0,354.4 L176.0,354.9 L177.0,355.5 L178.0,355.5 L179.0,355.6 L180.0,355.6 L181.0,355.6 L182.0,355.7 L183.0,355.7 L184.0,355.7 L185.0,355.8 L186.0,355.8 L187.0,355.8 L188.0,355.9 L189.0,355.9 L190.0,355.9 L191.0,356.0 L192.0,356.0" fill="none" stroke="#111" stroke-width="2.8" stroke-linejoin="round"/>
<path d="M65.1,277.7V282.7M70.8,298.5V303.5M75.0,307.8V312.8M79.0,314.4V319.4M84.0,319.0V324.0M88.0,322.4V327.4M90.6,325.0V330.0M93.2,327.6V332.6M95.8,330.2V335.2M98.4,332.3V337.3M101.0,334.3V339.3M103.6,334.9V339.9M106.2,335.5V340.5M108.8,335.9V340.9M111.4,336.2V341.2M114.0,336.5V341.5M116.6,336.9V341.9M119.2,337.2V342.2M121.8,337.6V342.6M124.4,338.1V343.1M127.0,338.7V343.7M129.6,339.4V344.4M132.2,340.0V345.0M134.8,340.6V345.6M137.4,341.3V346.3M140.0,341.7V346.7M142.6,342.3V347.3M145.2,344.3V349.3M147.8,345.2V350.2M150.4,345.8V350.8M153.0,346.5V351.5M155.6,347.2V352.2M158.2,347.8V352.8M160.8,348.3V353.3M163.4,348.5V353.5M166.0,348.7V353.7M168.6,348.9V353.9M171.2,349.7V354.7M173.8,351.2V356.2M176.4,352.7V357.7M179.0,353.1V358.1M181.6,353.2V358.2M184.2,353.2V358.2M186.8,353.3V358.3M189.4,353.4V358.4M228.3,353.2V358.2M234.4,353.1V358.1M239.6,353.1V358.1" fill="none" stroke="#111" stroke-width="1.2"/>
<path d="M52.0,250.3 L55.8,253.0 L57.0,260.5 L58.3,269.3 L59.5,275.5 L60.8,278.0 L62.0,285.5 L63.9,295.5 L65.8,304.3 L67.6,313.0 L69.5,318.0 L70.8,323.0 L73.3,324.9 L75.8,326.8 L78.3,331.8 L80.0,334.2 L85.2,337.7 L90.4,341.1 L97.3,344.6 L104.2,347.2 L111.1,348.9 L118.1,350.7 L125.0,351.5 L131.9,352.0 L140.6,352.4 L149.2,352.6 L170.0,352.8 L246.7,352.8" fill="none" stroke="#d21a2c" stroke-width="1.4" stroke-linejoin="round"/>
<path d="M150.0,352.6 L151.0,352.6 L152.0,352.6 L153.0,352.6 L154.0,352.6 L155.0,352.7 L156.0,352.7 L157.0,352.7 L158.0,352.7 L159.0,352.7 L160.0,352.7 L161.0,352.7 L162.0,352.7 L163.0,352.7 L164.0,352.7 L165.0,352.8 L166.0,352.8 L167.0,352.8 L168.0,352.8 L169.0,352.8 L170.0,352.8 L171.0,352.8 L172.0,352.8 L173.0,352.8 L174.0,352.8 L175.0,352.8 L176.0,352.8 L177.0,352.8 L178.0,352.8 L179.0,352.8 L180.0,352.8 L181.0,352.8 L182.0,352.8 L183.0,352.8 L184.0,352.8 L185.0,352.8" fill="none" stroke="#d21a2c" stroke-width="2.6" stroke-linejoin="round"/>
<path d="M60.8,275.5V280.5M68.3,312.3V317.3M84.0,334.4V339.4M88.2,337.2V342.2M92.4,339.6V344.6M96.6,341.7V346.7M100.8,343.4V348.4M105.0,344.9V349.9M109.2,345.9V350.9M113.4,347.0V352.0M117.6,348.1V353.1M121.8,348.6V353.6M126.0,349.1V354.1M130.2,349.4V354.4M134.4,349.6V354.6M138.6,349.8V354.8M142.8,350.0V355.0M147.0,350.0V355.0M150.0,350.1V355.1M152.8,350.1V355.1M155.6,350.2V355.2M158.4,350.2V355.2M161.2,350.2V355.2M164.0,350.2V355.2M166.8,350.3V355.3M169.6,350.3V355.3M172.4,350.3V355.3M175.2,350.3V355.3M178.0,350.3V355.3M180.8,350.3V355.3M183.6,350.3V355.3M186.4,350.3V355.3M192.0,350.3V355.3M195.5,350.3V355.3M201.5,350.3V355.3M205.8,350.3V355.3M211.9,350.3V355.3" fill="none" stroke="#d21a2c" stroke-width="1.2"/>
<path d="M316.6,250.3 L319.8,258.0 L323.5,263.0 L327.3,269.3 L330.4,275.5 L333.5,283.0 L336.6,290.5 L339.8,296.8 L343.5,301.8 L347.3,305.5 L352.3,309.3 L357.3,313.0 L363.5,316.8 L369.8,320.5 L376.9,325.6 L383.8,327.3 L390.8,329.0 L397.7,330.4 L404.6,331.6 L409.8,334.2 L416.7,336.0 L423.6,337.7 L428.8,339.4 L434.0,341.1 L439.2,343.7 L444.4,345.5 L479.0,346.2 L479.0,352.9 L510.4,352.9" fill="none" stroke="#111" stroke-width="1.5" stroke-linejoin="round"/>
<path d="M343.0,301.1 L344.0,302.3 L345.0,303.3 L346.0,304.2 L347.0,305.2 L348.0,306.0 L349.0,306.8 L350.0,307.6 L351.0,308.3 L352.0,309.1 L353.0,309.8 L354.0,310.6 L355.0,311.3 L356.0,312.0 L357.0,312.8 L358.0,313.4 L359.0,314.0 L360.0,314.7 L361.0,315.3 L362.0,315.9 L363.0,316.5 L364.0,317.1 L365.0,317.7 L366.0,318.3 L367.0,318.9 L368.0,319.4 L369.0,320.0 L370.0,320.6 L371.0,321.4 L372.0,322.1 L373.0,322.8 L374.0,323.5 L375.0,324.2 L376.0,325.0 L377.0,325.6 L378.0,325.9 L379.0,326.1 L380.0,326.4 L381.0,326.6 L382.0,326.9 L383.0,327.1 L384.0,327.3 L385.0,327.6 L386.0,327.8 L387.0,328.1 L388.0,328.3 L389.0,328.6 L390.0,328.8 L391.0,329.0 L392.0,329.2 L393.0,329.4 L394.0,329.6 L395.0,329.9 L396.0,330.1 L397.0,330.3 L398.0,330.5 L399.0,330.6 L400.0,330.8 L401.0,331.0 L402.0,331.1 L403.0,331.3 L404.0,331.5 L405.0,331.8 L406.0,332.3 L407.0,332.8 L408.0,333.3 L409.0,333.8 L410.0,334.3 L411.0,334.5 L412.0,334.8 L413.0,335.0 L414.0,335.3 L415.0,335.6 L416.0,335.8 L417.0,336.1 L418.0,336.3 L419.0,336.6 L420.0,336.8 L421.0,337.1 L422.0,337.3 L423.0,337.6 L424.0,337.8 L425.0,338.2 L426.0,338.5 L427.0,338.8 L428.0,339.1 L429.0,339.5 L430.0,339.8 L431.0,340.1 L432.0,340.4 L433.0,340.8 L434.0,341.1 L435.0,341.6 L436.0,342.1 L437.0,342.6 L438.0,343.1 L439.0,343.6 L440.0,344.0 L441.0,344.3 L442.0,344.7 L443.0,345.0 L444.0,345.4 L445.0,345.5 L446.0,345.5" fill="none" stroke="#111" stroke-width="3.2" stroke-linejoin="round"/>
<path d="M332.0,276.9V281.9M336.0,286.5V291.5M339.0,292.7V297.7M342.0,297.3V302.3M344.2,300.0V305.0M346.4,302.1V307.1M348.6,304.0V309.0M350.8,305.7V310.7M353.0,307.3V312.3M355.2,308.9V313.9M357.4,310.6V315.6M359.6,311.9V316.9M361.8,313.3V318.3M364.0,314.6V319.6M366.2,315.9V320.9M368.4,317.2V322.2M370.6,318.6V323.6M372.8,320.2V325.2M375.0,321.7V326.7M377.2,323.2V328.2M379.4,323.7V328.7M381.6,324.3V329.3M383.8,324.8V329.8M386.0,325.3V330.3M388.2,325.9V330.9M390.4,326.4V331.4M392.6,326.9V331.9M394.8,327.3V332.3M397.0,327.8V332.8M399.2,328.2V333.2M401.4,328.5V333.5M403.6,328.9V333.9M405.8,329.7V334.7M408.0,330.8V335.8M410.2,331.8V336.8M412.4,332.4V337.4M414.6,333.0V338.0M416.8,333.5V338.5M419.0,334.1V339.1M421.2,334.6V339.6M423.4,335.2V340.2M425.6,335.9V340.9M427.8,336.6V341.6M430.0,337.3V342.3M432.2,338.0V343.0M434.4,338.8V343.8M436.6,339.9V344.9M438.8,341.0V346.0M441.0,341.8V346.8M443.2,342.6V347.6M445.4,343.0V348.0M487.6,350.4V355.4M493.4,350.4V355.4M494.8,350.4V355.4M499.2,350.4V355.4M501.3,350.4V355.4M510.0,350.4V355.4" fill="none" stroke="#111" stroke-width="1.2"/>
<path d="M316.6,250.3 L319.8,258.0 L323.5,263.0 L326.0,269.3 L329.1,276.8 L331.6,284.3 L333.5,290.5 L335.4,298.0 L337.9,304.3 L340.4,309.3 L342.9,315.5 L345.4,319.3 L349.8,321.8 L354.8,324.3 L359.8,327.4 L366.0,330.5 L370.0,332.5 L376.9,336.0 L383.8,337.7 L392.5,339.1 L401.1,340.3 L409.8,341.1 L418.4,341.7 L427.1,342.0 L434.0,342.0 L439.2,343.7 L444.4,345.5 L460.0,346.2 L510.4,346.2" fill="none" stroke="#d21a2c" stroke-width="1.4" stroke-linejoin="round"/>
<path d="M400.0,340.1 L401.0,340.3 L402.0,340.4 L403.0,340.5 L404.0,340.6 L405.0,340.7 L406.0,340.8 L407.0,340.8 L408.0,340.9 L409.0,341.0 L410.0,341.1 L411.0,341.2 L412.0,341.3 L413.0,341.3 L414.0,341.4 L415.0,341.5 L416.0,341.5 L417.0,341.6 L418.0,341.7 L419.0,341.7 L420.0,341.8 L421.0,341.8 L422.0,341.8 L423.0,341.9 L424.0,341.9 L425.0,341.9 L426.0,342.0 L427.0,342.0 L428.0,342.0 L429.0,342.0 L430.0,342.0 L431.0,342.0 L432.0,342.0 L433.0,342.0 L434.0,342.0 L435.0,342.3 L436.0,342.7 L437.0,343.0 L438.0,343.3 L439.0,343.6 L440.0,344.0 L441.0,344.3 L442.0,344.7 L443.0,345.0 L444.0,345.4 L445.0,345.5 L446.0,345.6 L447.0,345.6 L448.0,345.7 L449.0,345.7 L450.0,345.8 L451.0,345.8 L452.0,345.8 L453.0,345.9 L454.0,345.9 L455.0,346.0 L456.0,346.0 L457.0,346.1 L458.0,346.1 L459.0,346.2 L460.0,346.2 L461.0,346.2 L462.0,346.2 L463.0,346.2 L464.0,346.2 L465.0,346.2" fill="none" stroke="#d21a2c" stroke-width="2.6" stroke-linejoin="round"/>
<path d="M333.0,286.4V291.4M337.0,299.5V304.5M340.0,306.0V311.0M344.0,314.7V319.7M346.6,317.5V322.5M349.2,319.0V324.0M351.8,320.3V325.3M354.4,321.6V326.6M357.0,323.2V328.2M359.6,324.8V329.8M362.2,326.1V331.1M364.8,327.4V332.4M367.4,328.7V333.7M370.0,330.0V335.0M372.6,331.3V336.3M375.2,332.6V337.6M377.8,333.7V338.7M380.4,334.4V339.4M383.0,335.0V340.0M385.6,335.5V340.5M388.2,335.9V340.9M390.8,336.3V341.3M393.4,336.7V341.7M396.0,337.1V342.1M398.6,337.5V342.5M401.2,337.8V342.8M403.8,338.0V343.0M406.4,338.3V343.3M409.0,338.5V343.5M411.6,338.7V343.7M414.2,338.9V343.9M416.8,339.1V344.1M419.4,339.2V344.2M422.0,339.3V344.3M424.6,339.4V344.4M427.2,339.5V344.5M429.8,339.5V344.5M432.4,339.5V344.5M435.0,339.8V344.8M437.6,340.7V345.7M440.2,341.5V346.5M442.8,342.4V347.4M445.4,343.0V348.0M448.0,343.2V348.2M450.6,343.3V348.3M453.2,343.4V348.4M455.8,343.5V348.5M458.4,343.6V348.6M461.0,343.7V348.7M463.6,343.7V348.7M468.9,343.7V348.7M471.0,343.7V348.7M478.2,343.7V348.7M494.1,343.7V348.7" fill="none" stroke="#d21a2c" stroke-width="1.2"/>
<path d="M52.8,500.2 L55.0,501.3 L56.0,504.7 L56.7,509.3 L57.3,514.7 L58.0,521.3 L58.7,528.0 L59.7,534.0 L61.0,537.3 L61.7,543.3 L62.0,550.0 L62.3,558.0 L63.7,562.0 L64.7,567.3 L65.7,572.7 L66.7,577.3 L67.6,585.0 L69.5,590.0 L70.8,595.0 L72.0,600.0 L72.6,601.3 L75.1,601.9 L77.0,603.8 L80.8,607.5 L84.5,610.0 L89.5,612.5 L93.2,613.8 L95.8,616.2 L98.2,618.8 L102.0,621.2 L107.0,622.5 L112.0,624.5 L115.0,625.5 L198.6,625.5" fill="none" stroke="#2228b8" stroke-width="1.3" stroke-linejoin="round"/>
<path d="M102.4,618.9V623.9M108.5,620.6V625.6M110.2,621.3V626.3M117.1,623.0V628.0M119.7,623.0V628.0M122.3,623.0V628.0M124.9,623.0V628.0M133.5,623.0V628.0M137.0,623.0V628.0M140.5,623.0V628.0M146.5,623.0V628.0M155.0,623.0V628.0M160.0,623.0V628.0M165.0,623.0V628.0M172.0,623.0V628.0M176.0,623.0V628.0M178.9,623.0V628.0M181.0,623.0V628.0M186.0,623.0V628.0M191.0,623.0V628.0M196.0,623.0V628.0" fill="none" stroke="#2228b8" stroke-width="1.2"/>
<path d="M52.8,500.2 L55.7,502.7 L57.3,511.3 L58.7,516.7 L60.0,521.3 L61.7,526.0 L63.3,531.3 L64.3,534.0 L65.7,540.0 L67.3,546.7 L69.0,554.0 L70.3,559.3 L71.3,563.3 L73.7,566.0 L75.7,568.7 L77.7,572.7 L80.8,577.5 L84.5,582.5 L88.2,587.5 L92.0,591.2 L97.0,595.0 L102.0,597.5 L107.0,598.8 L113.9,599.9 L120.6,601.3 L127.9,603.1 L136.3,604.9 L144.6,607.7 L153.0,611.4 L158.6,613.7 L164.1,616.6 L166.0,617.4 L201.8,617.4" fill="none" stroke="#d21a2c" stroke-width="1.4" stroke-linejoin="round"/>
<path d="M128.0,603.1 L129.0,603.3 L130.0,603.5 L131.0,603.8 L132.0,604.0 L133.0,604.2 L134.0,604.4 L135.0,604.6 L136.0,604.8 L137.0,605.1 L138.0,605.5 L139.0,605.8 L140.0,606.1 L141.0,606.5 L142.0,606.8 L143.0,607.2 L144.0,607.5 L145.0,607.9 L146.0,608.3 L147.0,608.8 L148.0,609.2 L149.0,609.6 L150.0,610.1 L151.0,610.5 L152.0,611.0 L153.0,611.4 L154.0,611.8 L155.0,612.2 L156.0,612.6 L157.0,613.0 L158.0,613.5 L159.0,613.9 L160.0,614.4 L161.0,615.0 L162.0,615.5 L163.0,616.0 L164.0,616.5 L165.0,617.0 L166.0,617.4" fill="none" stroke="#d21a2c" stroke-width="2.6" stroke-linejoin="round"/>
<path d="M70.1,556.0V561.0M72.5,562.1V567.1M76.5,567.8V572.8M79.5,573.0V578.0M83.0,578.0V583.0M86.0,582.0V587.0M90.0,586.8V591.8M94.0,590.2V595.2M98.0,593.0V598.0M102.0,595.0V600.0M106.0,596.0V601.0M110.0,596.8V601.8M114.0,597.4V602.4M118.0,598.3V603.3M122.0,599.1V604.1M126.0,600.1V605.1M129.0,600.8V605.8M132.0,601.5V606.5M136.0,602.3V607.3M139.0,603.3V608.3M142.0,604.3V609.3M146.0,605.8V610.8M150.0,607.6V612.6M154.0,609.3V614.3M157.0,610.5V615.5M160.0,611.9V616.9M167.0,614.9V619.9M172.3,614.9V619.9M175.2,614.9V619.9M178.7,614.9V619.9M182.4,614.9V619.9M188.5,614.9V619.9M194.2,614.9V619.9M199.0,614.9V619.9" fill="none" stroke="#d21a2c" stroke-width="1.2"/>
<path d="M52.8,500.2 L56.0,500.7 L58.7,502.0 L60.7,504.0 L63.7,504.7 L64.3,508.7 L65.3,512.0 L66.7,516.0 L67.7,520.0 L69.0,524.7 L70.3,528.0 L71.0,530.0 L72.3,534.0 L73.7,536.7 L75.0,540.7 L75.3,545.0 L76.4,547.0 L79.5,549.5 L83.3,553.0 L87.0,555.5 L92.0,559.0 L97.0,562.5 L102.0,566.0 L107.0,567.6 L112.0,568.3 L127.9,569.5 L141.8,571.8 L155.8,573.2 L166.9,576.0 L172.5,578.8 L175.3,583.4 L243.5,583.4" fill="none" stroke="#111" stroke-width="1.4" stroke-linejoin="round"/>
<path d="M67.0,514.7V519.7M75.0,538.2V543.2M81.0,548.4V553.4M85.0,551.6V556.6M90.0,555.1V560.1M95.0,558.6V563.6M100.0,562.1V567.1M104.0,564.1V569.1M108.0,565.2V570.2M112.0,565.8V570.8M116.0,566.1V571.1M120.0,566.4V571.4M124.0,566.7V571.7M128.0,567.0V572.0M133.0,567.8V572.8M137.0,568.5V573.5M141.0,569.2V574.2M146.0,569.7V574.7M150.0,570.1V575.1M155.0,570.6V575.6M160.0,571.8V576.8M165.0,573.0V578.0M170.0,575.0V580.0M178.0,580.9V585.9M181.0,580.9V585.9M183.0,580.9V585.9M186.0,580.9V585.9M189.0,580.9V585.9M205.0,580.9V585.9M208.0,580.9V585.9M218.0,580.9V585.9M225.3,580.9V585.9M231.7,580.9V585.9M237.2,580.9V585.9" fill="none" stroke="#111" stroke-width="1.2"/>
<path d="M52.8,500.2 L56.0,500.7 L57.7,504.7 L59.0,509.3 L60.3,513.3 L62.0,518.0 L63.7,523.3 L65.3,528.0 L65.7,530.0 L67.7,534.0 L69.7,536.7 L71.7,540.0 L75.0,545.3 L77.7,549.3 L81.4,554.5 L84.5,557.0 L89.5,558.9 L94.5,561.0 L99.5,562.8 L104.5,564.5 L113.9,565.7 L127.9,568.5 L141.8,571.3 L155.8,572.4 L169.7,573.0 L243.5,573.0" fill="none" stroke="#3ec43e" stroke-width="1.4" stroke-linejoin="round"/>
<path d="M60.0,509.9V514.9M66.0,528.1V533.1M70.0,534.7V539.7M74.0,541.2V546.2M79.0,548.6V553.6M85.0,554.7V559.7M90.0,556.6V561.6M95.0,558.7V563.7M100.0,560.5V565.5M105.0,562.1V567.1M110.0,562.7V567.7M115.0,563.4V568.4M120.0,564.4V569.4M125.0,565.4V570.4M130.0,566.4V571.4M135.0,567.4V572.4M140.0,568.4V573.4M145.0,569.1V574.1M150.0,569.4V574.4M155.0,569.8V574.8M160.0,570.1V575.1M163.0,570.2V575.2M166.0,570.3V575.3M171.0,570.5V575.5M174.0,570.5V575.5M176.0,570.5V575.5M179.0,570.5V575.5M184.0,570.5V575.5M187.0,570.5V575.5M191.0,570.5V575.5M194.0,570.5V575.5M199.0,570.5V575.5M206.0,570.5V575.5M213.0,570.5V575.5M225.7,570.5V575.5M240.0,570.5V575.5" fill="none" stroke="#3ec43e" stroke-width="1.2"/>
<path d="M318.0,500.0 L320.8,507.8 L323.7,515.3 L326.2,522.0 L327.8,528.7 L329.5,534.5 L330.8,540.3 L332.0,547.0 L332.6,553.3 L333.8,560.0 L335.1,565.0 L336.3,571.7 L337.6,577.5 L339.2,581.7 L341.3,585.0 L343.4,588.3 L345.1,591.7 L345.9,595.0 L348.0,597.5 L350.5,600.0 L353.8,601.2 L358.0,601.7 L361.3,602.1 L364.7,604.4 L370.2,607.0 L375.5,610.2 L379.7,613.4 L387.1,614.2 L439.7,614.2 L439.7,623.4 L464.8,623.4" fill="none" stroke="#2228b8" stroke-width="1.3" stroke-linejoin="round"/>
<path d="M333.5,555.8V560.8M336.5,570.1V575.1M342.0,583.6V588.6M349.0,596.0V601.0M351.0,597.7V602.7M357.0,599.1V604.1M364.0,601.4V606.4M370.0,604.4V609.4M376.0,608.1V613.1M380.0,610.9V615.9M387.0,611.7V616.7M392.0,611.7V616.7M396.0,611.7V616.7M399.0,611.7V616.7M402.0,611.7V616.7M407.0,611.7V616.7M411.0,611.7V616.7M416.0,611.7V616.7M420.0,611.7V616.7M426.0,611.7V616.7M430.0,611.7V616.7M437.0,611.7V616.7M439.0,611.7V616.7M441.0,620.9V625.9M444.0,620.9V625.9M447.0,620.9V625.9M451.0,620.9V625.9M455.0,620.9V625.9M459.0,620.9V625.9M463.0,620.9V625.9" fill="none" stroke="#2228b8" stroke-width="1.2"/>
<path d="M318.0,500.0 L320.3,507.0 L322.8,513.7 L325.3,519.5 L327.8,525.3 L330.3,532.0 L332.8,538.7 L334.5,542.8 L336.2,547.8 L337.2,550.0 L338.8,555.8 L340.5,560.8 L342.6,565.0 L344.7,568.3 L347.2,570.8 L350.5,573.3 L353.8,576.7 L357.2,580.0 L361.3,582.5 L365.0,584.5 L371.9,587.1 L378.8,589.7 L387.5,591.4 L396.1,592.3 L403.1,594.9 L410.0,597.5 L416.9,599.2 L423.8,601.0 L430.7,603.5 L437.7,605.3 L444.6,607.0 L448.0,607.3 L478.8,607.3 L478.8,619.2 L510.4,619.2" fill="none" stroke="#d21a2c" stroke-width="1.4" stroke-linejoin="round"/>
<path d="M366.0,584.9 L367.0,585.3 L368.0,585.6 L369.0,586.0 L370.0,586.4 L371.0,586.8 L372.0,587.1 L373.0,587.5 L374.0,587.9 L375.0,588.3 L376.0,588.6 L377.0,589.0 L378.0,589.4 L379.0,589.7 L380.0,589.9 L381.0,590.1 L382.0,590.3 L383.0,590.5 L384.0,590.7 L385.0,590.9 L386.0,591.1 L387.0,591.3 L388.0,591.5 L389.0,591.6 L390.0,591.7 L391.0,591.8 L392.0,591.9 L393.0,592.0 L394.0,592.1 L395.0,592.2 L396.0,592.3 L397.0,592.6 L398.0,593.0 L399.0,593.4 L400.0,593.7 L401.0,594.1 L402.0,594.5 L403.0,594.9 L404.0,595.2 L405.0,595.6 L406.0,596.0 L407.0,596.4 L408.0,596.7 L409.0,597.1 L410.0,597.5 L411.0,597.7 L412.0,598.0 L413.0,598.2 L414.0,598.5 L415.0,598.7 L416.0,599.0 L417.0,599.2 L418.0,599.5 L419.0,599.7 L420.0,600.0 L421.0,600.3 L422.0,600.5 L423.0,600.8 L424.0,601.1 L425.0,601.4 L426.0,601.8 L427.0,602.2 L428.0,602.5 L429.0,602.9 L430.0,603.2 L431.0,603.6 L432.0,603.8 L433.0,604.1 L434.0,604.3 L435.0,604.6 L436.0,604.9 L437.0,605.1 L438.0,605.4 L439.0,605.6 L440.0,605.9 L441.0,606.1 L442.0,606.4 L443.0,606.6 L444.0,606.9 L445.0,607.0 L446.0,607.1 L447.0,607.2 L448.0,607.3 L449.0,607.3 L450.0,607.3 L451.0,607.3 L452.0,607.3" fill="none" stroke="#d21a2c" stroke-width="2.6" stroke-linejoin="round"/>
<path d="M333.0,536.7V541.7M337.0,547.1V552.1M340.0,556.8V561.8M344.0,564.7V569.7M348.0,568.9V573.9M352.0,572.3V577.3M356.0,576.3V581.3M360.0,579.2V584.2M364.0,581.5V586.5M368.0,583.1V588.1M372.0,584.6V589.6M376.0,586.1V591.1M380.0,587.4V592.4M384.0,588.2V593.2M388.0,589.0V594.0M392.0,589.4V594.4M396.0,589.8V594.8M400.0,591.2V596.2M404.0,592.7V597.7M408.0,594.2V599.2M412.0,595.5V600.5M416.0,596.5V601.5M420.0,597.5V602.5M424.0,598.6V603.6M428.0,600.0V605.0M432.0,601.3V606.3M436.0,602.4V607.4M440.0,603.4V608.4M444.0,604.4V609.4M448.0,604.8V609.8M452.0,604.8V609.8M456.0,604.8V609.8M461.0,604.8V609.8M466.0,604.8V609.8M470.0,604.8V609.8M475.0,604.8V609.8M488.0,616.7V621.7M492.0,616.7V621.7M496.0,616.7V621.7" fill="none" stroke="#d21a2c" stroke-width="1.2"/>
<path d="M318.0,500.0 L323.3,508.3 L327.0,513.3 L330.8,514.5 L334.5,518.3 L337.0,523.3 L339.5,528.3 L342.0,534.5 L345.8,539.5 L350.8,541.4 L355.8,543.9 L360.8,546.4 L365.8,549.5 L370.8,550.8 L377.0,552.0 L383.9,552.3 L392.3,555.1 L403.5,557.9 L414.6,559.3 L425.8,559.3 L436.9,561.2 L442.5,565.0 L510.4,565.7" fill="none" stroke="#3ec43e" stroke-width="1.4" stroke-linejoin="round"/>
<path d="M328.0,511.1V516.1M334.0,515.3V520.3M340.0,527.0V532.0M347.0,537.5V542.5M352.0,539.5V544.5M356.0,541.5V546.5M360.0,543.5V548.5M364.0,545.9V550.9M368.0,547.6V552.6M372.0,548.5V553.5M377.0,549.5V554.5M382.0,549.7V554.7M387.0,550.8V555.8M392.0,552.5V557.5M396.0,553.5V558.5M400.0,554.5V559.5M404.0,555.5V560.5M408.0,556.0V561.0M412.0,556.5V561.5M416.0,556.8V561.8M420.0,556.8V561.8M424.0,556.8V561.8M428.0,557.2V562.2M432.0,557.9V562.9M436.0,558.5V563.5M440.0,560.8V565.8M446.0,562.5V567.5M450.0,562.6V567.6M453.0,562.6V567.6M459.0,562.7V567.7M462.0,562.7V567.7M470.0,562.8V567.8M478.0,562.9V567.9M487.0,563.0V568.0M494.0,563.0V568.0M508.0,563.2V568.2" fill="none" stroke="#3ec43e" stroke-width="1.2"/>
<path d="M318.0,500.0 L322.0,504.5 L327.0,509.5 L332.0,513.3 L337.0,517.0 L342.0,522.0 L347.0,528.3 L352.0,532.0 L357.0,535.8 L362.0,540.8 L365.8,543.3 L369.5,547.0 L374.5,549.5 L383.9,552.3 L392.3,557.9 L403.5,562.1 L411.8,564.9 L425.8,565.7 L436.9,567.6 L442.5,571.8 L445.3,574.1 L510.4,574.1" fill="none" stroke="#111" stroke-width="1.4" stroke-linejoin="round"/>
<path d="M335.0,513.0V518.0M345.0,523.3V528.3M352.0,529.5V534.5M358.0,534.3V539.3M363.0,539.0V544.0M368.0,543.0V548.0M372.0,545.8V550.8M377.0,547.7V552.7M382.0,549.2V554.2M388.0,552.5V557.5M394.0,556.0V561.0M398.0,557.5V562.5M403.0,559.4V564.4M408.0,561.1V566.1M412.0,562.4V567.4M416.0,562.6V567.6M420.0,562.9V567.9M424.0,563.1V568.1M428.0,563.6V568.6M432.0,564.3V569.3M447.0,571.6V576.6M451.0,571.6V576.6M454.0,571.6V576.6M457.0,571.6V576.6M460.0,571.6V576.6M466.0,571.6V576.6M470.0,571.6V576.6M478.0,571.6V576.6M485.0,571.6V576.6M493.0,571.6V576.6M500.0,571.6V576.6M507.0,571.6V576.6" fill="none" stroke="#111" stroke-width="1.2"/>
<path d="M62.3,45.5H66.7M64.5,43.1V47.9" stroke="#111" stroke-width="1.1" fill="none"/>
<path d="M64.8,55.5H69.2M67.0,53.1V57.9" stroke="#111" stroke-width="1.1" fill="none"/>
<path d="M69.8,69.3H74.2M72.0,66.9V71.7" stroke="#111" stroke-width="1.1" fill="none"/>
<path d="M64.2,67.4H68.6M66.4,65.0V69.8" stroke="#d21a2c" stroke-width="1.1" fill="none"/>
<path d="M65.4,70.5H69.8M67.6,68.1V72.9" stroke="#d21a2c" stroke-width="1.1" fill="none"/>
<path d="M62.8,277.5H67.2M65.0,275.1V279.9" stroke="#111" stroke-width="1.1" fill="none"/>
<path d="M69.0,300.0H73.5M71.2,297.6V302.4" stroke="#111" stroke-width="1.1" fill="none"/>
<path d="M72.8,310.0H77.2M75.0,307.6V312.4" stroke="#111" stroke-width="1.1" fill="none"/>
<path d="M57.8,278.8H62.2M60.0,276.4V281.1" stroke="#d21a2c" stroke-width="1.1" fill="none"/>
<path d="M65.3,315.0H69.7M67.5,312.6V317.4" stroke="#d21a2c" stroke-width="1.1" fill="none"/>
<path d="M321.8,264.0H326.2M324.0,261.6V266.4" stroke="#d21a2c" stroke-width="1.1" fill="none"/>
<path d="M323.8,270.4H328.2M326.0,268.0V272.8" stroke="#d21a2c" stroke-width="1.1" fill="none"/>
<path d="M330.3,292.7H334.7M332.5,290.3V295.1" stroke="#d21a2c" stroke-width="1.1" fill="none"/>
<path d="M333.2,303.0H337.6M335.4,300.6V305.4" stroke="#d21a2c" stroke-width="1.1" fill="none"/>
<path d="M331.5,283.0H335.9M333.7,280.6V285.4" stroke="#111" stroke-width="1.1" fill="none"/>
<path d="M337.3,295.6H341.7M339.5,293.2V298.0" stroke="#111" stroke-width="1.1" fill="none"/>
<path d="M62.6,518.0H67.0M64.8,515.6V520.4" stroke="#111" stroke-width="1.1" fill="none"/>
<path d="M66.3,523.0H70.7M68.5,520.6V525.4" stroke="#111" stroke-width="1.1" fill="none"/>
<path d="M57.3,511.5H61.7M59.5,509.1V513.9" stroke="#3ec43e" stroke-width="1.1" fill="none"/>
<path d="M61.3,523.0H65.7M63.5,520.6V525.4" stroke="#3ec43e" stroke-width="1.1" fill="none"/>
<path d="M68.1,560.0H72.5M70.3,557.6V562.4" stroke="#d21a2c" stroke-width="1.1" fill="none"/>
<path d="M69.8,564.5H74.2M72.0,562.1V566.9" stroke="#d21a2c" stroke-width="1.1" fill="none"/>
<text x="189.50" y="20.30" font-size="14" fill="#111" stroke="#111" stroke-width="0.45" textLength="45.5" lengthAdjust="spacingAndGlyphs"><tspan font-style="italic">P</tspan>=0.12</text>
<text x="94.20" y="79.30" font-size="13" fill="#111" stroke="#111" stroke-width="0.45" textLength="118.6" lengthAdjust="spacingAndGlyphs"><tspan font-style="italic">DNMT3A</tspan><tspan font-size="9.36" dx="0.00" dy="-4.42">wt</tspan><tspan dy="4.42"> (n=949)</tspan></text>
<text x="94.90" y="148.70" font-size="13" fill="#d0182c" stroke="#d0182c" stroke-width="0.45" textLength="124.7" lengthAdjust="spacingAndGlyphs"><tspan font-style="italic">DNMT3A</tspan><tspan font-size="9.36" dx="0.00" dy="-4.42">mut</tspan><tspan dy="4.42"> (n=289)</tspan></text>
<text x="461.80" y="20.50" font-size="14" fill="#111" stroke="#111" stroke-width="0.45" textLength="43.5" lengthAdjust="spacingAndGlyphs"><tspan font-style="italic">P</tspan>=0.91</text>
<text x="366.20" y="79.80" font-size="13" fill="#111" stroke="#111" stroke-width="0.45" textLength="120.5" lengthAdjust="spacingAndGlyphs"><tspan font-style="italic">DNMT3A</tspan><tspan font-size="9.36" dx="0.00" dy="-4.42">wt</tspan><tspan dy="4.42"> (n=1333)</tspan></text>
<text x="367.00" y="137.00" font-size="13" fill="#d0182c" stroke="#d0182c" stroke-width="0.45" textLength="119.7" lengthAdjust="spacingAndGlyphs"><tspan font-style="italic">DNMT3A</tspan><tspan font-size="9.36" dx="0.00" dy="-4.42">mut</tspan><tspan dy="4.42"> (n=367)</tspan></text>
<text x="185.30" y="260.50" font-size="14" fill="#111" stroke="#111" stroke-width="0.45" textLength="52.5" lengthAdjust="spacingAndGlyphs"><tspan font-style="italic">P</tspan>=0.097</text>
<text x="106.20" y="322.00" font-size="13" fill="#111" stroke="#111" stroke-width="0.45" textLength="117.8" lengthAdjust="spacingAndGlyphs"><tspan font-style="italic">DNMT3A</tspan><tspan font-size="9.36" dx="0.00" dy="-4.42">wt</tspan><tspan dy="4.42"> (n=406)</tspan></text>
<text x="107.60" y="382.00" font-size="13" fill="#d0182c" stroke="#d0182c" stroke-width="0.45" textLength="126.4" lengthAdjust="spacingAndGlyphs"><tspan font-style="italic">DNMT3A</tspan><tspan font-size="9.36" dx="0.00" dy="-4.42">mut</tspan><tspan dy="4.42"> (n=217)</tspan></text>
<text x="459.30" y="260.60" font-size="14" fill="#111" stroke="#111" stroke-width="0.45" textLength="44.8" lengthAdjust="spacingAndGlyphs"><tspan font-style="italic">P</tspan>=0.20</text>
<text x="378.00" y="312.80" font-size="13" fill="#111" stroke="#111" stroke-width="0.45" textLength="118.3" lengthAdjust="spacingAndGlyphs"><tspan font-style="italic">DNMT3A</tspan><tspan font-size="9.36" dx="0.00" dy="-4.42">wt</tspan><tspan dy="4.42"> (n=524)</tspan></text>
<text x="378.10" y="374.80" font-size="13" fill="#d0182c" stroke="#d0182c" stroke-width="0.45" textLength="125.9" lengthAdjust="spacingAndGlyphs"><tspan font-style="italic">DNMT3A</tspan><tspan font-size="9.36" dx="0.00" dy="-4.42">mut</tspan><tspan dy="4.42"> (n=266)</tspan></text>
<text x="77.00" y="516.70" font-size="12.2" fill="#111" stroke="#111" stroke-width="0.45" textLength="160.8" lengthAdjust="spacingAndGlyphs">ELN-fav+<tspan font-style="italic">DNMT3A</tspan><tspan font-size="8.78" dx="0.00" dy="-4.15">wt</tspan><tspan dy="4.15"> (n=146)</tspan></text>
<text x="77.00" y="531.80" font-size="12.2" fill="#2db82d" stroke="#2db82d" stroke-width="0.45" textLength="160.8" lengthAdjust="spacingAndGlyphs">ELN-fav+<tspan font-style="italic">DNMT3A</tspan><tspan font-size="8.78" dx="0.00" dy="-4.15">mut</tspan><tspan dy="4.15"> (n=98)</tspan></text>
<text x="186.60" y="562.80" font-size="14" fill="#111" stroke="#111" stroke-width="0.45" textLength="45.8" lengthAdjust="spacingAndGlyphs"><tspan font-style="italic">P</tspan>=0.98</text>
<text x="186.60" y="609.20" font-size="14" fill="#111" stroke="#111" stroke-width="0.45" textLength="53.5" lengthAdjust="spacingAndGlyphs"><tspan font-style="italic">P</tspan>=0.002</text>
<text x="53.80" y="648.60" font-size="12.2" fill="#d0182c" stroke="#d0182c" stroke-width="0.45" textLength="176.3" lengthAdjust="spacingAndGlyphs">ELN-unfav+<tspan font-style="italic">DNMT3A</tspan><tspan font-size="8.78" dx="0.00" dy="-4.15">wt</tspan><tspan dy="4.15"> (n=209)</tspan></text>
<text x="53.00" y="663.20" font-size="12.2" fill="#1f5da8" stroke="#1f5da8" stroke-width="0.45" textLength="185.2" lengthAdjust="spacingAndGlyphs">ELN-unfav+<tspan font-style="italic">DNMT3A</tspan><tspan font-size="8.78" dx="0.00" dy="-4.15">mut</tspan><tspan dy="4.15"> (n=102)</tspan></text>
<text x="348.00" y="507.60" font-size="11.8" fill="#111" stroke="#111" stroke-width="0.45" textLength="153.3" lengthAdjust="spacingAndGlyphs">ELN-fav+<tspan font-style="italic">DNMT3A</tspan><tspan font-size="8.5" dx="0.00" dy="-4.01">wt</tspan><tspan dy="4.01"> (n=162)</tspan></text>
<text x="348.40" y="522.60" font-size="11.8" fill="#2db82d" stroke="#2db82d" stroke-width="0.45" textLength="160.9" lengthAdjust="spacingAndGlyphs">ELN-fav+<tspan font-style="italic">DNMT3A</tspan><tspan font-size="8.5" dx="0.00" dy="-4.01">mut</tspan><tspan dy="4.01"> (n=112)</tspan></text>
<text x="452.80" y="559.80" font-size="14" fill="#111" stroke="#111" stroke-width="0.45" textLength="44.8" lengthAdjust="spacingAndGlyphs"><tspan font-style="italic">P</tspan>=0.99</text>
<text x="453.30" y="601.50" font-size="14" fill="#111" stroke="#111" stroke-width="0.45" textLength="44.3" lengthAdjust="spacingAndGlyphs"><tspan font-style="italic">P</tspan>=0.01</text>
<text x="329.30" y="648.80" font-size="11.8" fill="#d0182c" stroke="#d0182c" stroke-width="0.45" textLength="169.8" lengthAdjust="spacingAndGlyphs">ELN-unfav+<tspan font-style="italic">DNMT3A</tspan><tspan font-size="8.5" dx="0.00" dy="-4.01">wt</tspan><tspan dy="4.01"> (n=301)</tspan></text>
<text x="328.20" y="664.20" font-size="11.8" fill="#1f5da8" stroke="#1f5da8" stroke-width="0.45" textLength="175.9" lengthAdjust="spacingAndGlyphs">ELN-unfav+<tspan font-style="italic">DNMT3A</tspan><tspan font-size="8.5" dx="0.00" dy="-4.01">mut</tspan><tspan dy="4.01"> (n=134)</tspan></text>
</svg>
</body></html>
